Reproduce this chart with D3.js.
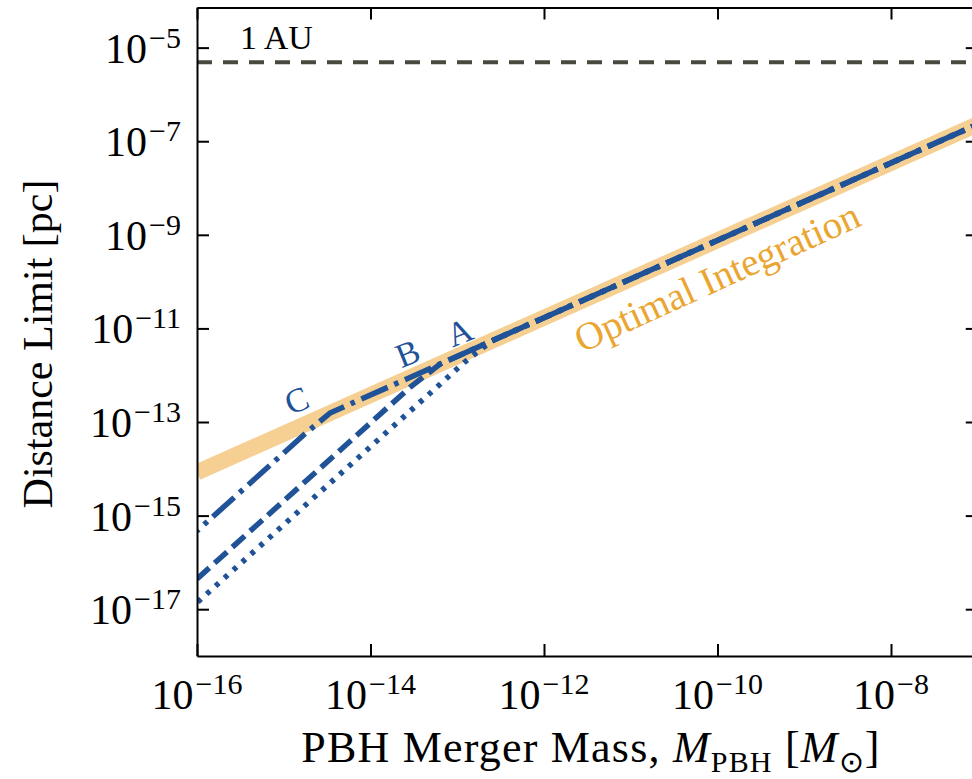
<!DOCTYPE html>
<html>
<head>
<meta charset="utf-8">
<script src="https://cdn.jsdelivr.net/npm/d3@7"></script>
<style>
  body { margin: 0; background: #fff; }
  svg { display: block; font-family: "Liberation Serif", serif; }
</style>
</head>
<body>
<div id="chart"></div>
<script>
// data: [mass (Msun), distance limit (pc)]
var optimal = [[1e-16, 8.4e-15], [1e-7, 2.3e-7]];
var curveA = [[1e-16, 1.38e-17], [1.23e-13, 1.94e-12], [2.52e-13, 5.43e-12], [1e-7, 2.3e-7]];
var curveB = [[1e-16, 4.44e-17], [2.85e-14, 5.48e-13], [6.33e-14, 1.73e-12], [1e-7, 2.3e-7]];
var curveC = [[1e-16, 4.71e-16], [1.76e-15, 5.6e-14], [3.41e-15, 1.55e-13], [1e-7, 2.3e-7]];
var oneAU = 4.848e-6;

var xTickVals = [1e-16, 1e-14, 1e-12, 1e-10, 1e-8];
var xTickExp = ["\u221216", "\u221214", "\u221212", "\u221210", "\u22128"];
var yTickVals = [1e-17, 1e-15, 1e-13, 1e-11, 1e-9, 1e-7, 1e-5];
var yTickExp = ["\u221217", "\u221215", "\u221213", "\u221211", "\u22129", "\u22127", "\u22125"];

var width = 972,
    height = 779;
// plot box (the right spine falls just outside the window, like the reference)
var plotL = 197, plotR = 977.75, plotT = 7.5, plotB = 656;

var blue = "#1f5297",
    band = "#f6cf92",
    orange = "#eba531";

var x = d3.scaleLog().domain([1e-16, 1e-7]).range([plotL, plotR]);
var y = d3.scaleLog().domain([1e-18, 7.2e-5]).range([plotB, plotT]);

var svg = d3.select("#chart").append("svg")
    .attr("width", width)
    .attr("height", height);

svg.append("clipPath").attr("id", "plot-clip")
  .append("rect")
    .attr("x", plotL).attr("y", plotT)
    .attr("width", plotR - plotL).attr("height", plotB - plotT);

var g = svg.append("g").attr("clip-path", "url(#plot-clip)");

var line = d3.line()
    .x(function(d) { return x(d[0]); })
    .y(function(d) { return y(d[1]); });

// 1 AU reference
g.append("line")
    .attr("x1", plotL).attr("x2", plotR)
    .attr("y1", y(oneAU)).attr("y2", y(oneAU))
    .attr("stroke", "#484a40")
    .attr("stroke-width", 4)
    .attr("stroke-dasharray", "15,11");

// optimal integration band
g.append("path")
    .datum(optimal)
    .attr("d", line)
    .attr("fill", "none")
    .attr("stroke", band)
    .attr("stroke-width", 16);

// matplotlib-like patterns (all share a 47.7px period), so the
// overlapping part on the right shows long dashes with short gaps
var lw = 4.5;
var period = 10.6 * lw;
var curves = [
  {data: curveA, dash: [1, 1.65].map(function(v) { return v * lw; })},
  {data: curveB, dash: [3.7, 1.6].map(function(v) { return v * lw; })},
  {data: curveC, dash: [6.4, 1.6, 1, 1.6].map(function(v) { return v * lw; })}
];

// length (px) along a curve up to the point where A joins the band,
// used to line up the dash phase of the three curves there
var joinPt = curveA[2];
function lengthTo(data) {
  var pts = data.slice(0, data.length - 1).concat([joinPt]);
  var len = 0;
  for (var i = 1; i < pts.length; i++) {
    var dx = x(pts[i][0]) - x(pts[i - 1][0]);
    var dy = y(pts[i][1]) - y(pts[i - 1][1]);
    len += Math.sqrt(dx * dx + dy * dy);
  }
  return len;
}

curves.forEach(function(c) {
  var off = period - (lengthTo(c.data) % period);
  g.append("path")
      .datum(c.data)
      .attr("d", line)
      .attr("fill", "none")
      .attr("stroke", blue)
      .attr("stroke-width", 5.5)
      .attr("stroke-dasharray", c.dash.join(","))
      .attr("stroke-dashoffset", off);
});

// axes, ticks pointing inward on all four sides
var axes = svg.append("g");
axes.append("g")
    .attr("transform", "translate(0," + plotB + ")")
    .call(d3.axisBottom(x).tickValues(xTickVals).tickSizeInner(-12).tickSizeOuter(0).tickFormat(""));
axes.append("g")
    .attr("transform", "translate(0," + plotT + ")")
    .call(d3.axisTop(x).tickValues(xTickVals).tickSizeInner(-12).tickSizeOuter(0).tickFormat(""));
axes.append("g")
    .attr("transform", "translate(" + plotL + ",0)")
    .call(d3.axisLeft(y).tickValues(yTickVals).tickSizeInner(-12).tickSizeOuter(0).tickFormat(""));
axes.append("g")
    .attr("transform", "translate(" + plotR + ",0)")
    .call(d3.axisRight(y).tickValues(yTickVals).tickSizeInner(-12).tickSizeOuter(0).tickFormat(""));
axes.selectAll(".domain").attr("stroke", "#000").attr("stroke-width", 2);
axes.selectAll(".tick line").attr("stroke", "#000").attr("stroke-width", 2);

// tick labels as 10^n
function powLabel(sel, exp) {
  sel.append("tspan").text("10");
  sel.append("tspan").attr("dy", -15).attr("dx", 2).attr("font-size", 30).text(exp);
}

xTickVals.forEach(function(v, i) {
  var t = svg.append("text")
      .attr("x", x(v))
      .attr("y", 709)
      .attr("text-anchor", "middle")
      .attr("font-size", 42);
  powLabel(t, xTickExp[i]);
});

yTickVals.forEach(function(v, i) {
  var t = svg.append("text")
      .attr("x", 181)
      .attr("y", y(v) + 15)
      .attr("text-anchor", "end")
      .attr("font-size", 42);
  powLabel(t, yTickExp[i]);
});

// axis titles
var xt = svg.append("text")
    .attr("x", 591)
    .attr("y", 762)
    .attr("text-anchor", "middle")
    .attr("font-size", 44)
    .attr("letter-spacing", 1.2);
xt.append("tspan").text("PBH Merger Mass, ");
xt.append("tspan").attr("font-style", "italic").text("M");
xt.append("tspan").attr("font-size", 30).attr("dy", 10).text("PBH");
xt.append("tspan").attr("dy", -10).text(" [");
xt.append("tspan").attr("font-style", "italic").text("M");
xt.append("tspan").attr("font-size", 30).attr("dy", 10).text("\u2299");
xt.append("tspan").attr("dy", -10).text("]");

svg.append("text")
    .attr("transform", "translate(52,344) rotate(-90)")
    .attr("text-anchor", "middle")
    .attr("font-size", 42)
    .text("Distance Limit [pc]");

// annotations
svg.append("text")
    .attr("x", 240)
    .attr("y", 49)
    .attr("font-size", 34)
    .text("1\u2009AU");

svg.append("text")
    .attr("transform", "translate(582,353) rotate(-24.5)")
    .attr("font-size", 39)
    .attr("fill", orange)
    .text("Optimal Integration");

var labels = [["C", 301, 411], ["B", 412, 364], ["A", 464, 343]];
labels.forEach(function(l) {
  svg.append("text")
      .attr("transform", "translate(" + l[1] + "," + l[2] + ") rotate(-22)")
      .attr("text-anchor", "middle")
      .attr("font-size", 34)
      .attr("fill", blue)
      .text(l[0]);
});
</script>
</body>
</html>
